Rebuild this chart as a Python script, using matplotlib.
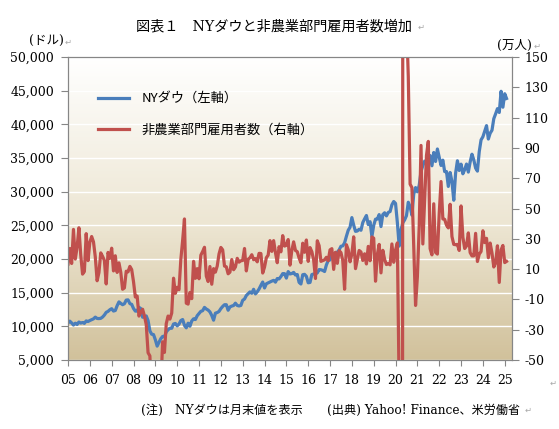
import matplotlib
matplotlib.use('Agg')
import matplotlib.pyplot as plt
import numpy as np
from matplotlib.colors import LinearSegmentedColormap
from matplotlib.ticker import FuncFormatter

# NY Dow month-end close, Jan 2005 - Feb 2025 (dollars)
dow = [
    10490, 10766, 10504, 10193, 10467, 10275, 10641, 10482, 10569, 10440, 10806, 10718,
    10865, 10993, 11109, 11367, 11168, 11150, 11186, 11381, 11679, 12081, 12222, 12463,
    12622, 12269, 12354, 13063, 13628, 13409, 13212, 13358, 13896, 13930, 13372, 13265,
    12650, 12266, 12263, 12820, 12638, 11350, 11378, 11544, 10851, 9325, 8829, 8776,
    8001, 7063, 7609, 8168, 8500, 8447, 9172, 9496, 9712, 9713, 10345, 10428,
    10067, 10325, 10857, 11009, 10137, 9774, 10466, 10015, 10788, 11118, 11006, 11578,
    11892, 12226, 12320, 12811, 12570, 12414, 12143, 11614, 10913, 11955, 12046, 12218,
    12633, 12952, 13212, 13214, 12393, 12880, 13009, 13091, 13437, 13096, 13026, 13104,
    13861, 14054, 14579, 14840, 15116, 14910, 15500, 14810, 15130, 15546, 16086, 16577,
    15699, 16322, 16458, 16581, 16717, 16827, 16563, 17098, 17043, 17391, 17828, 17823,
    17165, 18133, 17776, 17841, 18011, 17620, 17690, 16528, 16285, 17664, 17720, 17425,
    16466, 16517, 17685, 17774, 17787, 17930, 18432, 18401, 18308, 18142, 19124, 19763,
    19864, 20812, 20663, 20941, 21009, 21350, 21891, 21948, 22405, 23377, 24272, 24719,
    26149, 25029, 24103, 24163, 24416, 24271, 25415, 25965, 26458, 25116, 25538, 23327,
    24999, 25916, 25929, 26593, 24815, 26600, 26864, 26403, 26917, 27046, 28051, 28538,
    28256, 25409, 21917, 24346, 25383, 25813, 26428, 28430, 27782, 26502, 29639, 30606,
    29983, 30932, 32982, 33875, 34529, 34503, 34935, 35361, 33844, 35820, 34484, 36338,
    35132, 33893, 34678, 32977, 32990, 30775, 32845, 31510, 28726, 32733, 34590, 33147,
    34086, 32657, 33274, 34098, 32908, 34408, 35560, 34722, 33508, 33053, 35951, 37690,
    38150, 38996, 39807, 37816, 38686, 39119, 40843, 41563, 42330, 41763, 44911, 42544,
    44544, 43841,
]

# nonfarm payroll change, same months (10 thousand persons)
payrolls = [
    13.3, 23.6, 13.7, 36.2, 16.6, 24.5, 37.3, 19.4, 6.7, 8.4, 33.4, 15.6,
    27.7, 31.5, 28.0, 18.0, 2.3, 7.7, 20.7, 18.4, 15.7, 0.2, 21.0, 17.1,
    23.8, 8.8, 18.8, 7.8, 14.1, 7.9, -3.3, -2.4, 8.6, 8.2, 11.8, 9.7,
    1.7, -8.4, -7.8, -21.0, -18.5, -16.5, -20.9, -26.6, -45.2, -47.3, -76.9, -69.5,
    -79.1, -70.3, -82.3, -68.7, -38.0, -45.0, -26.0, -21.0, -23.0, -19.0, 4.0, -6.0,
    -2.0, -3.6, 16.2, 29.0, 43.1, -12.5, -13.1, -5.4, -9.5, 15.1, 3.9, 10.3,
    3.6, 19.2, 21.6, 24.4, 5.4, 1.8, 11.7, 0.0, 10.3, 8.0, 12.0, 20.0,
    24.3, 22.7, 12.0, 11.5, 6.9, 8.0, 16.3, 9.6, 11.4, 17.1, 14.6, 15.5,
    15.7, 23.6, 8.8, 16.5, 17.5, 19.5, 16.2, 16.9, 14.8, 20.4, 20.3, 7.4,
    11.3, 17.5, 19.2, 28.8, 21.7, 28.8, 20.9, 14.2, 24.8, 21.4, 32.1, 25.2,
    25.7, 29.5, 12.6, 22.3, 28.0, 22.3, 21.5, 17.3, 14.2, 27.1, 21.1, 29.2,
    15.1, 24.2, 21.5, 16.0, 3.8, 28.7, 25.5, 15.1, 15.6, 16.1, 17.8, 15.6,
    22.7, 23.5, 9.8, 21.1, 13.8, 22.2, 20.9, 15.6, -3.3, 26.1, 22.8, 14.8,
    20.0, 31.3, 10.3, 16.4, 22.3, 21.3, 15.7, 20.1, 13.4, 25.0, 15.5, 31.2,
    30.4, 2.0, 19.6, 26.3, 7.5, 22.4, 16.4, 13.0, 13.6, 12.8, 26.6, 14.5,
    22.5, 27.3, -70.1, -2050.0, 250.9, 480.0, 176.3, 137.1, 66.1, 63.8, 24.5, -14.0,
    4.9, 37.9, 91.6, 26.6, 55.9, 85.0, 94.3, 23.5, 19.4, 53.1, 21.0, 19.9,
    46.7, 67.8, 43.1, 42.8, 39.0, 37.2, 52.8, 31.5, 26.3, 26.1, 26.3, 22.3,
    51.7, 31.1, 23.6, 25.3, 33.9, 20.9, 18.7, 18.7, 33.6, 15.0, 19.9, 21.6,
    35.3, 27.5, 30.3, 17.5, 27.2, 20.6, 11.4, 14.2, 25.4, 1.2, 22.7, 25.6,
    14.3, 15.1,
]

year_labels = ['%02d' % y for y in range(5, 26)]
legend_labels = ['NYダウ（左軸）', '非農業部門雇用者数（右軸）']

SERIF = ['DejaVu Serif', 'Noto Sans CJK JP']
JP = ['Noto Sans CJK JP', 'DejaVu Sans']
MARK = ['DejaVu Sans']
GRAY = '#868686'

plt.rcParams['font.family'] = SERIF

W, H = 559, 429
fig = plt.figure(figsize=(W / 100, H / 100), dpi=100)
fig.patch.set_facecolor('white')
ax = fig.add_axes([68 / W, 69 / H, 444 / W, 303 / H])

months = np.arange(len(dow))
n_cat = 244

# gradient plot area
grad = np.linspace(0, 1, 256).reshape(-1, 1)
bg = LinearSegmentedColormap.from_list(
    'bg', [(0, '#d1c19b'), (0.45, '#ede6d3'), (1, '#ffffff')])
ax.imshow(grad, extent=[0, n_cat, 5000, 50000], origin='lower',
          aspect='auto', cmap=bg, zorder=0)

ax.plot(months, dow, color='#4a7ebb', lw=2.3, zorder=3)
ax.set_xlim(0, n_cat)
ax.set_ylim(5000, 50000)
ax.set_yticks(np.arange(5000, 50001, 5000))
ax.yaxis.set_major_formatter(FuncFormatter(lambda v, p: f'{v:,.0f}'))
ax.set_xticks(np.arange(0, 241, 12))
ax.set_xticklabels(year_labels)
ax.yaxis.grid(True, color='white', lw=1.0)
ax.set_axisbelow(True)
ax.tick_params(axis='y', direction='out', length=5, color=GRAY,
               labelsize=9, pad=5)
ax.tick_params(axis='x', direction='out', length=4, color=GRAY,
               labelsize=9, pad=6)

ax2 = ax.twinx()
ax2.plot(months, payrolls, color='#c0504d', lw=2.3)
ax2.set_ylim(-50, 150)
ax2.set_yticks(np.arange(-50, 151, 20))
ax2.yaxis.set_major_formatter(FuncFormatter(lambda v, p: f'{v:.0f}'))
ax2.tick_params(axis='y', direction='out', length=5, color=GRAY,
                labelsize=9, pad=4)

for a in (ax, ax2):
    for s in a.spines.values():
        s.set_color(GRAY)
        s.set_linewidth(0.8)

handles = ax.get_lines() + ax2.get_lines()
leg = ax2.legend(handles, legend_labels, loc='upper left',
                 bbox_to_anchor=(0.068, 0.884), frameon=False,
                 prop={'family': JP, 'size': 9.5},
                 handlelength=2.3, handletextpad=1.0, labelspacing=1.4,
                 borderpad=0, borderaxespad=0)

def put(x, y, s, size=9, family=SERIF, color='black', ha='center'):
    fig.text(x / W, 1 - y / H, s, ha=ha, va='center', fontsize=size,
             family=family, color=color)

put(274, 26, '図表１　NYダウと非農業部門雇用者数増加', size=10.2)
put(46, 41, '(ドル)')
put(514, 45, '(万人)')
put(331, 410, '(注)　NYダウは月末値を表示　　(出典) Yahoo! Finance、米労働省',
    size=8.7)

# paragraph marks as they appear in the source document
for x, y in [(421, 27), (68, 42), (537, 46), (528, 410), (553, 383)]:
    put(x, y, '↵', size=6, family=MARK, color='#a8a8a8')

fig.savefig('out.png', dpi=100, facecolor='white')
